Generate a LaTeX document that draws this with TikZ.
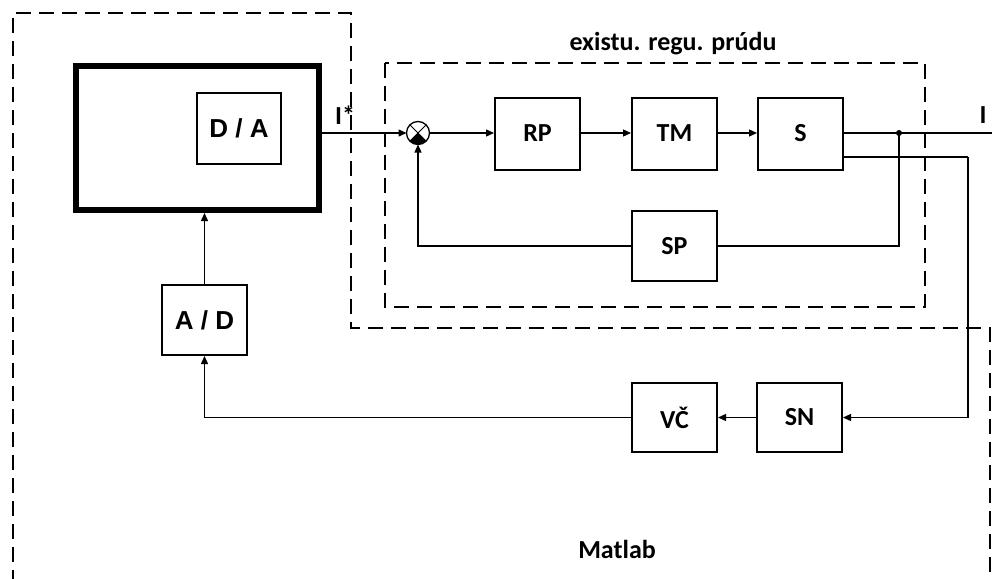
\documentclass[tikz,border=0pt]{standalone}
\usepackage{fontspec}
\setmainfont{Carlito}
\newfontfamily\convfont{Liberation Sans}
\usetikzlibrary{arrows.meta}
\begin{document}
\begin{tikzpicture}[x=1pt,y=-1pt,
  lbl/.style={font=\bfseries\fontsize{26}{30}\selectfont},
  conv/.style={font=\convfont\bfseries\fontsize{26}{30}\selectfont},
  blk/.style={draw,line width=2pt,minimum width=85pt,minimum height=72pt,inner sep=0pt,lbl},
  conn/.style={line width=1.3pt},
  arr/.style={conn,-{Triangle[length=8pt,width=7pt]}},
  region/.style={line width=1.3pt,dash pattern=on 15pt off 8pt}]
\useasboundingbox (0,0) rectangle (992,578);

% Matlab region (dashed outline)
\draw[region] (13,585) -- (13,13) -- (351,13) -- (351,328) -- (990,328) -- (990,585);
\node[lbl] (matlab) at (617,549) {Matlab};

% existing current loop region
\draw[region] (385,63) rectangle (925,307);
\node[lbl] (loop) at (673,44) {existu. regu. prúdu};

% computer with D/A card
\node[draw,line width=6pt,minimum width=243pt,minimum height=144pt,inner sep=0pt] (pc) at (197.5,138) {};
\node[blk,conv,minimum width=84pt,minimum height=71pt] (da) at (239,128.5) {D / A};
\node[blk,conv,minimum height=70pt] (ad) at (204.5,320) {A / D};

% summing junction
\node[circle,draw,line width=1.3pt,minimum size=23pt,inner sep=0pt,outer sep=0pt] (j) at (418,133) {};
\draw[line width=1pt] (j.north west) -- (j.south east) (j.north east) -- (j.south west);
\fill (j.center) -- (j.south west) arc[start angle=225,end angle=315,radius=11.5pt] -- cycle;

% forward path
\node[blk] (rp) at (537.5,133.5) {RP};
\node[blk] (tm) at (674.5,133.5) {TM};
\node[blk] (s)  at (800.5,133.5) {S};
\node[blk,minimum height=70pt] (sp) at (674.5,246) {SP};

% measurement path
\node[blk,minimum height=69pt] (vc) at (674.5,417.5) {VČ};
\node[blk,minimum height=69pt] (sn) at (799.5,417.5) {SN};

\node[lbl] (istar) at (345,115) {I*};
\node[lbl] (iout) at (983,115) {I};

\coordinate (tap) at (899,133);
\coordinate (out) at (995,133);
\coordinate (s2) at (843,157);
\coordinate (s2r) at (968,157);

\draw[arr] (pc.east |- j) -- (j.west);
\draw[arr] (j.east) -- (rp.west |- j);
\draw[arr] (rp.east |- j) -- (tm.west |- j);
\draw[arr] (tm.east |- j) -- (s.west |- j);
\draw[conn] (s.east |- j) -- (out);
\fill (tap) circle (3pt);
\draw[conn] (tap) |- (sp.east);
\draw[arr] (sp.west) -| (j.south);

\draw[conn] (s2) -- (s2r);
\draw[arr] (s2r) |- (sn.east);
\draw[arr] (sn.west) -- (vc.east);
\draw[arr] (vc.west) -| (ad.south);
\draw[arr] (ad.north) -- (ad.north |- pc.south);
\end{tikzpicture}
\end{document}
